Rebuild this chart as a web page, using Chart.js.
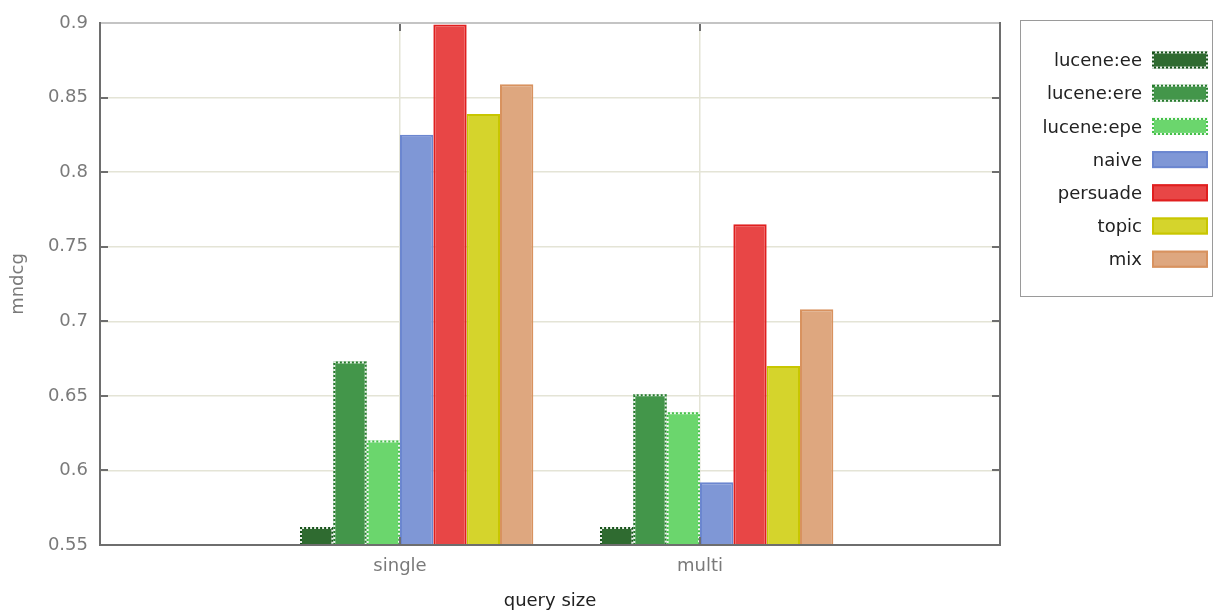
<!DOCTYPE html>
<html>
<head>
<meta charset="utf-8">
<title>mndcg by query size</title>
<script src="https://cdn.jsdelivr.net/npm/chart.js@4.4.1/dist/chart.umd.min.js"></script>
<style>
  html, body { margin: 0; padding: 0; background: #fff; }
  #wrap { width: 1215px; height: 612px; position: relative; }
</style>
</head>
<body>
<div id="wrap"><canvas id="mndcgChart" width="1215" height="612"></canvas></div>
<script>
// categories (blank slots at both ends keep the gnuplot-like x range)
const categories = ["", "single", "multi", ""];
const seriesNames = ["lucene:ee", "lucene:ere", "lucene:epe", "naive", "persuade", "topic", "mix"];

// mndcg per method: [single, multi]
const luceneEe  = [0.562, 0.562];
const luceneEre = [0.673, 0.651];
const luceneEpe = [0.620, 0.639];
const naive     = [0.825, 0.592];
const persuade  = [0.899, 0.765];
const topic     = [0.839, 0.670];
const mix       = [0.859, 0.708];

const yTicks = [0.55, 0.6, 0.65, 0.7, 0.75, 0.8, 0.85, 0.9];

const fills   = ["#2f6b30", "#43964a", "#6bd66d", "#7f97d6", "#e84646", "#d5d42c", "#dea77f"];
const borders = ["#17521a", "#257a2b", "#46c04a", "#6b86d0", "#e01f1f", "#c8c600", "#d8925f"];
const dotted  = [true, true, true, false, false, false, false];

const allSeries = [luceneEe, luceneEre, luceneEpe, naive, persuade, topic, mix];

const FONT = { family: "DejaVu Sans", size: 18 };

// pad a [single, multi] pair out to the four category slots
function toSlots(vals) {
  return [null, vals[0], vals[1], null];
}

const datasets = [{
  // empty leading slot: gnuplot puts the cluster right of the tic
  label: "",
  data: [null, null, null, null],
  backgroundColor: "transparent",
  borderWidth: 0,
  spacer: true
}];
allSeries.forEach((vals, i) => {
  datasets.push({
    label: seriesNames[i],
    data: toSlots(vals),
    backgroundColor: fills[i],
    borderColor: borders[i],
    borderWidth: dotted[i] ? 0 : 2,
    dotted: dotted[i]
  });
});

// dotted outlines for the lucene bars
const dottedBars = {
  id: "dottedBars",
  afterDatasetsDraw(chart) {
    const ctx = chart.ctx;
    const bottom = chart.chartArea.bottom;
    chart.data.datasets.forEach((ds, di) => {
      if (!ds.dotted) return;
      const meta = chart.getDatasetMeta(di);
      meta.data.forEach((bar, j) => {
        if (ds.data[j] == null) return;
        const l = bar.x - bar.width / 2 + 1, r = bar.x + bar.width / 2 - 1;
        const t = bar.y + 1, b = Math.min(bar.base, bottom);
        ctx.save();
        ctx.lineWidth = 2;
        ctx.beginPath();
        ctx.moveTo(l, b); ctx.lineTo(l, t); ctx.lineTo(r, t); ctx.lineTo(r, b);
        ctx.strokeStyle = "rgba(255,255,255,0.9)";
        ctx.stroke();
        ctx.setLineDash([2, 2]);
        ctx.strokeStyle = ds.borderColor;
        ctx.stroke();
        ctx.restore();
      });
    });
  }
};

// plot frame with inward tic marks
const frame = {
  id: "frame",
  afterDraw(chart) {
    const ctx = chart.ctx;
    const a = chart.chartArea;
    const y = chart.scales.y, x = chart.scales.x;
    ctx.save();
    ctx.lineWidth = 2;
    ctx.strokeStyle = "#6e6e6e";
    yTicks.forEach(v => {
      const py = Math.round(y.getPixelForValue(v));
      ctx.beginPath();
      ctx.moveTo(a.left, py); ctx.lineTo(a.left + 8, py);
      ctx.moveTo(a.right, py); ctx.lineTo(a.right - 8, py);
      ctx.stroke();
    });
    [1, 2].forEach(i => {
      const px = Math.round(x.getPixelForValue(i));
      ctx.beginPath();
      ctx.moveTo(px, a.bottom); ctx.lineTo(px, a.bottom - 8);
      ctx.moveTo(px, a.top); ctx.lineTo(px, a.top + 8);
      ctx.stroke();
    });
    ctx.strokeStyle = "#c4c4c4";
    ctx.beginPath();
    ctx.moveTo(a.left, a.top); ctx.lineTo(a.right, a.top);
    ctx.stroke();
    ctx.strokeStyle = "#6e6e6e";
    ctx.beginPath();
    ctx.moveTo(a.left, a.top - 1); ctx.lineTo(a.left, a.bottom);
    ctx.lineTo(a.right, a.bottom); ctx.lineTo(a.right, a.top - 1);
    ctx.stroke();
    ctx.restore();
  }
};

// right-aligned key with the swatch after the label
const sideKey = {
  id: "sideKey",
  afterDraw(chart) {
    const ctx = chart.ctx;
    ctx.save();
    ctx.strokeStyle = "#9a9a9a";
    ctx.lineWidth = 1;
    ctx.strokeRect(1020.5, 20.5, 192, 276);
    ctx.font = "18px 'DejaVu Sans'";
    ctx.textAlign = "right";
    ctx.textBaseline = "middle";
    let row = 0;
    chart.data.datasets.forEach(ds => {
      if (ds.spacer) return;
      const cy = 60 + row * 33.2;
      ctx.fillStyle = "#222";
      ctx.fillText(ds.label, 1142, cy + 1.5);
      ctx.fillStyle = ds.backgroundColor;
      ctx.fillRect(1152, cy - 8.5, 56, 17);
      ctx.lineWidth = 2;
      ctx.strokeStyle = ds.dotted ? "rgba(255,255,255,0.9)" : ds.borderColor;
      ctx.strokeRect(1153, cy - 7.5, 54, 15);
      if (ds.dotted) {
        ctx.setLineDash([2, 2]);
        ctx.strokeStyle = ds.borderColor;
        ctx.strokeRect(1153, cy - 7.5, 54, 15);
        ctx.setLineDash([]);
      }
      row++;
    });
    ctx.restore();
  }
};

const ctx = document.getElementById("mndcgChart").getContext("2d");
new Chart(ctx, {
  type: "bar",
  data: { labels: categories, datasets: datasets },
  plugins: [dottedBars, frame, sideKey],
  options: {
    responsive: false,
    animation: false,
    devicePixelRatio: 1,
    layout: { padding: { top: 23, right: 215, bottom: 0, left: 0 } },
    datasets: {
      bar: { categoryPercentage: 8 / 9, barPercentage: 1, borderSkipped: "bottom" }
    },
    plugins: {
      legend: { display: false },
      tooltip: { enabled: false }
    },
    scales: {
      x: {
        offset: false,
        grid: { offset: false, color: "#e4e4d6", lineWidth: 1.5, drawTicks: false },
        border: { display: false },
        ticks: {
          color: "#7a7a7a",
          font: FONT,
          padding: 11,
          maxRotation: 0,
          autoSkip: false
        },
        title: {
          display: true,
          text: "query size",
          color: "#222",
          font: FONT,
          padding: { top: 7, bottom: 0 }
        },
        afterFit(scale) { scale.height = 67; }
      },
      y: {
        min: 0.55,
        max: 0.9,
        afterBuildTicks(scale) { scale.ticks = yTicks.map(v => ({ value: v })); },
        grid: { color: "#e4e4d6", lineWidth: 1.5, drawTicks: false },
        border: { display: false },
        ticks: {
          color: "#7a7a7a",
          font: FONT,
          padding: 12,
          callback: v => String(+v.toFixed(2))
        },
        title: {
          display: true,
          text: "mndcg",
          color: "#7a7a7a",
          font: FONT,
          padding: { top: 8, bottom: 10 }
        },
        afterFit(scale) { scale.width = 100; }
      }
    }
  }
});
</script>
</body>
</html>
